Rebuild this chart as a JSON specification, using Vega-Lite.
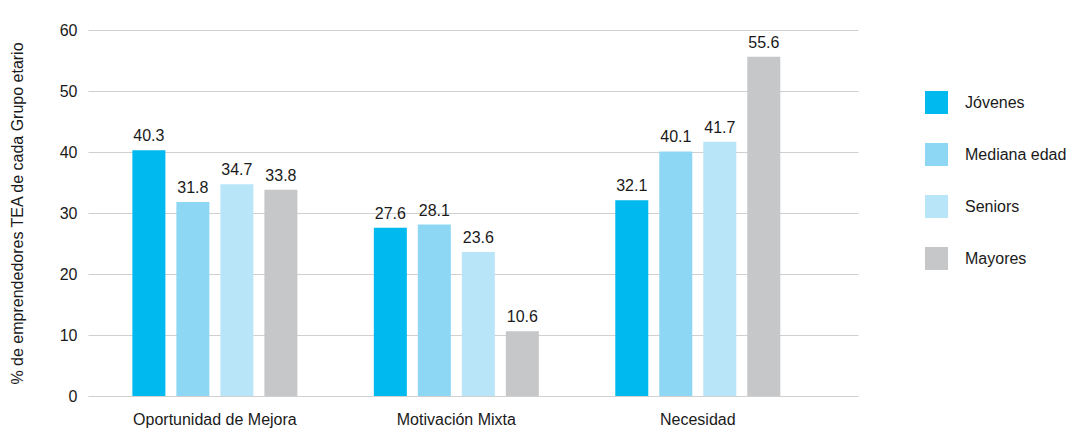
{
  "$schema": "https://vega.github.io/schema/vega-lite/v6.json",
  "autosize": {"type": "none"},
  "width": 770,
  "height": 366,
  "padding": {"left": 88, "top": 30, "right": 209, "bottom": 32},
  "background": "white",
  "config": {
    "font": "Liberation Sans",
    "view": {"stroke": null},
    "axis": {"labelFont": "Liberation Sans", "titleFont": "Liberation Sans"}
  },
  "data": {
    "values": [
      {"motivo": "Oportunidad de Mejora", "grupo": "Jóvenes", "valor": 40.3},
      {"motivo": "Oportunidad de Mejora", "grupo": "Mediana edad", "valor": 31.8},
      {"motivo": "Oportunidad de Mejora", "grupo": "Seniors", "valor": 34.7},
      {"motivo": "Oportunidad de Mejora", "grupo": "Mayores", "valor": 33.8},
      {"motivo": "Motivación Mixta", "grupo": "Jóvenes", "valor": 27.6},
      {"motivo": "Motivación Mixta", "grupo": "Mediana edad", "valor": 28.1},
      {"motivo": "Motivación Mixta", "grupo": "Seniors", "valor": 23.6},
      {"motivo": "Motivación Mixta", "grupo": "Mayores", "valor": 10.6},
      {"motivo": "Necesidad", "grupo": "Jóvenes", "valor": 32.1},
      {"motivo": "Necesidad", "grupo": "Mediana edad", "valor": 40.1},
      {"motivo": "Necesidad", "grupo": "Seniors", "valor": 41.7},
      {"motivo": "Necesidad", "grupo": "Mayores", "valor": 55.6}
    ]
  },
  "encoding": {
    "x": {
      "field": "motivo", "type": "nominal",
      "sort": ["Oportunidad de Mejora", "Motivación Mixta", "Necesidad"],
      "scale": {"paddingInner": 0.271, "paddingOuter": 0.23, "align": 0.35},
      "axis": {"title": null, "labelAngle": 0, "domain": false, "ticks": false, "labelFontSize": 16, "labelColor": "#1a1a1a", "labelPadding": 15, "labelBaseline": "top"}
    },
    "xOffset": {
      "field": "grupo", "type": "nominal",
      "sort": ["Jóvenes", "Mediana edad", "Seniors", "Mayores"],
      "scale": {"paddingInner": 0.25, "paddingOuter": 0.125}
    },
    "y": {
      "field": "valor", "type": "quantitative",
      "scale": {"domain": [0, 60], "nice": false},
      "axis": {"title": "% de emprendedores TEA de cada Grupo etario", "titleFontSize": 16, "titleFontWeight": "normal", "titleColor": "#1a1a1a", "titlePadding": 34, "values": [0, 10, 20, 30, 40, 50, 60], "domain": false, "ticks": false, "labelFontSize": 16, "labelColor": "#1a1a1a", "labelPadding": 11, "gridColor": "#d0d0d0", "gridWidth": 1.2}
    }
  },
  "layer": [
    {
      "mark": {"type": "bar"},
      "encoding": {
        "color": {
          "field": "grupo", "type": "nominal",
          "sort": ["Jóvenes", "Mediana edad", "Seniors", "Mayores"],
          "scale": {"domain": ["Jóvenes", "Mediana edad", "Seniors", "Mayores"], "range": ["#00b9ee", "#8dd7f5", "#b9e5f8", "#c6c7c9"]},
          "legend": {"title": null, "orient": "none", "legendX": 837, "legendY": 61, "symbolType": "square", "symbolSize": 529, "symbolStrokeWidth": 0, "symbolOpacity": 1, "labelFontSize": 16, "labelColor": "#1a1a1a", "labelOffset": 17, "rowPadding": 29}
        }
      }
    },
    {
      "mark": {"type": "text", "baseline": "bottom", "dy": -6, "fontSize": 16, "color": "#1a1a1a"},
      "encoding": {"text": {"field": "valor", "type": "quantitative", "format": ".1f"}}
    }
  ]
}
